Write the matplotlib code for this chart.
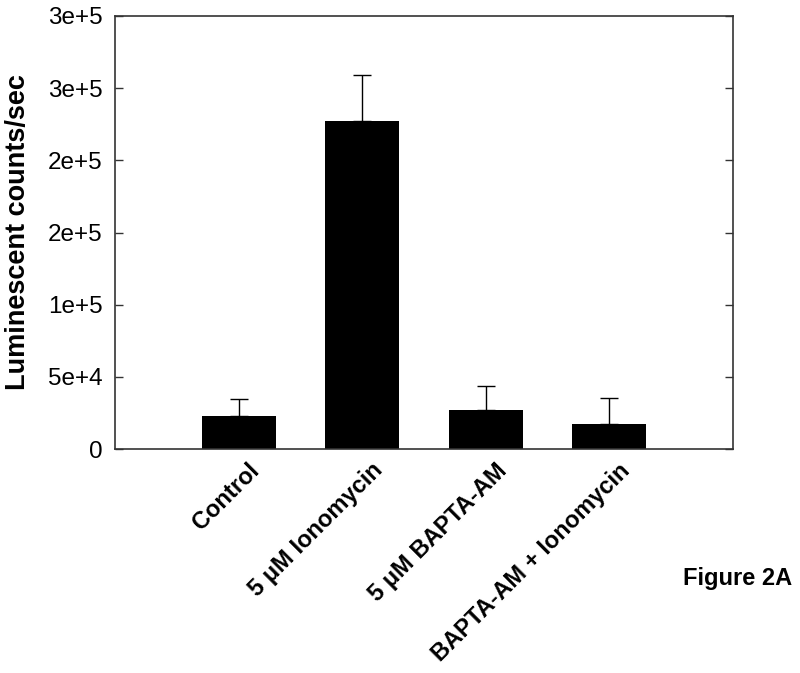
import matplotlib
matplotlib.use("Agg")
import matplotlib.pyplot as plt
from matplotlib.transforms import ScaledTranslation

categories = ["Control", "5 \u03bcM Ionomycin", "5 \u03bcM BAPTA-AM", "BAPTA-AM + Ionomycin"]
values = [22850, 227350, 27000, 17500]
errors = [11500, 32000, 16500, 17800]
ytick_values = [0, 50000, 100000, 150000, 200000, 250000, 300000]
ytick_labels = ["0", "5e+4", "1e+5", "2e+5", "2e+5", "3e+5", "3e+5"]

plt.rcParams['font.family'] = ['Liberation Sans', 'DejaVu Sans']

fig = plt.figure(figsize=(8.0, 6.73), dpi=100)
ax = fig.add_axes([115/800, 1 - 449/673, 618/800, 433/673])

x = list(range(len(categories)))
ax.bar(x, values, width=0.6, color='black', zorder=2)
ax.errorbar(x, values, yerr=[[0]*len(errors), errors], fmt='none', ecolor='black',
            elinewidth=1, capsize=6.5, capthick=1, zorder=1)

ax.set_xlim(-1, 4)
ax.set_ylim(0, 300000)
ax.set_yticks(ytick_values)
ax.set_yticklabels(ytick_labels, fontsize=17.5)
ax.tick_params(axis='y', direction='in', length=6, width=1, right=True, pad=9, colors='#333333', labelcolor='black')
ax.tick_params(axis='x', length=0, pad=7)
ax.set_xticks(x)
ax.set_xticklabels(categories, rotation=45, ha='right', va='top', rotation_mode='anchor',
                   fontsize=17, fontweight='bold')
offset = ScaledTranslation(9/100, 0, fig.dpi_scale_trans)
for lbl in ax.get_xticklabels():
    lbl.set_transform(lbl.get_transform() + offset)
for s in ax.spines.values():
    s.set_linewidth(1.2)
    s.set_color('#333333')

ax.set_ylabel("Luminescent counts/sec", fontsize=19.5, fontweight='bold', labelpad=12)

fig.text(683/800, 1 - 590/673, "Figure 2A", fontsize=17, fontweight='bold', ha='left', va='bottom')

fig.savefig("out.png", dpi=100)
